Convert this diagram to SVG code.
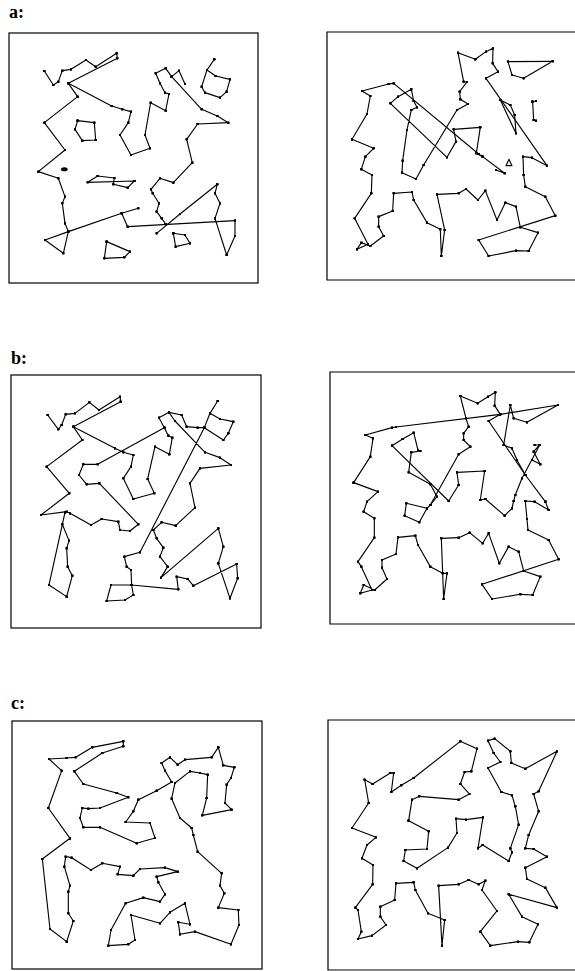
<svg xmlns="http://www.w3.org/2000/svg" width="575" height="971" viewBox="0 0 575 971">
<style>
.bg{fill:#fff}
.frame{fill:none;stroke:#000;stroke-width:1.2}
.lbl{font-family:"Liberation Serif","DejaVu Serif",serif;font-weight:bold;font-size:18px;fill:#000}
.t polyline,.t polygon{fill:none;stroke:#000;stroke-width:3.4;stroke-linejoin:round;marker-start:url(#d);marker-mid:url(#d);marker-end:url(#d)}
.t .nm{marker-start:none;marker-mid:none;marker-end:none}
</style>
<defs>
<marker id="d" viewBox="-1 -1 2 2" markerWidth="2.6" markerHeight="2.6" markerUnits="strokeWidth" refX="0" refY="0"><circle r="1" fill="#000"/></marker>
</defs>
<rect class="bg" x="0" y="0" width="575" height="971"/>
<text class="lbl" x="9" y="18">a:</text>
<text class="lbl" x="11" y="364">b:</text>
<text class="lbl" x="11" y="709">c:</text>

<g id="panel-a-left">
<rect class="frame" x="9" y="33" width="249" height="250"/>
<g class="t" transform="translate(5 20) scale(0.3333)">
<polyline points="118,153 145,195 160,185 172,152 198,148 243,120 272,140 335,100 337,115 190,190 218,230 118,308 180,390 100,455 160,475 180,530 172,550 180,610 190,635 120,660 175,700 190,635 350,580 400,565"/>
<polyline points="350,580 368,620 690,602"/>
<polyline points="455,640 525,582 637,493 630,520 645,550 630,595 665,705 690,648 690,602"/>
<polyline points="190,190 320,258 352,268 378,275 370,308 345,345 378,405 435,385 420,345 437,248 482,272 492,222 480,218 465,190 452,160 482,145 500,170 590,268 637,288 670,308 578,312 545,358 562,428 505,488 465,475 438,508 443,520 462,550 455,575 470,595 482,612"/>
<polyline points="500,170 522,152 540,192"/>
<polygon points="218,302 268,308 272,360 232,362 210,328"/>
<polygon points="606,150 632,168 675,178 665,215 645,233 600,218 590,200"/>
<polyline points="606,150 628,118"/>
<polygon points="388,483 248,487 278,468 328,474 325,493 368,503"/>
<polygon points="305,665 375,695 358,712 298,715"/>
<polygon points="505,640 540,645 555,670 512,680"/>
<ellipse cx="178" cy="448" rx="10" ry="6" fill="#000"/>
</g>
</g>

<g id="panel-a-right">
<path class="frame" d="M576,32 H327 V280 H576"/>
<g class="t" transform="translate(312 20) scale(0.3333)">
<polyline points="120,358 165,282 175,228 150,213 230,192 245,190 500,402 512,410 578,460 552,450"/>
<polyline points="120,358 185,385 160,410 148,448 180,465 178,520 128,595 168,673 135,688 148,668 175,678 215,648 200,620 200,590 242,573 245,520 300,516 305,540 345,608 385,628 388,708 398,630 375,523 440,520 462,507 498,540 520,512 555,600 580,548 612,560 625,622 678,638 650,693 612,692 530,708 500,660 730,587 700,530 640,500 635,465 633,410 660,413 705,437 522,175 558,155 542,130 543,85 522,95 490,118 438,98 455,185 465,186 443,215 445,238 468,252 435,270 335,435 312,477 270,458 272,422 285,330 298,270 315,262 305,243 298,208 258,230 235,250 405,412 432,365 425,328 505,322 493,400 512,410"/>
<polygon points="588,125 722,124 635,175 600,165"/>
<polyline points="660,245 672,243"/>
<polyline points="662,245 665,300 672,302"/>
<polygon points="565,240 595,255 608,285 612,340"/>
<polygon class="nm" points="582,437 591,418 600,437"/>
</g>
</g>

<g id="panel-b-left">
<rect class="frame" x="11" y="375" width="250" height="253"/>
<g class="t" transform="translate(5 365) scale(0.3333)">
<polyline points="128,150 160,193 170,180 182,148 210,145 253,112 282,135 345,95 347,110 205,185 232,225 125,305 193,385 108,450 185,440 195,445 258,480 290,462 340,470 345,495 375,498 400,478 283,355 245,358 222,330 235,298 278,298 478,188"/>
<polyline points="205,185 330,250 355,262 385,270 378,305 355,340 385,402 448,385 428,342 450,245 493,268 502,218 490,212 478,188 462,158 492,142 510,168 600,262 645,278 678,300 585,310 555,355 570,428 512,482 470,472 445,495 455,520 475,548 465,575 488,605 468,638 640,490 655,545 640,595 675,700 698,640 695,597 565,662 548,642 515,635 520,673 380,660 318,660 305,708 360,705 385,690 380,660 378,615 365,605 358,575 405,562 598,188 615,145 638,108"/>
<polyline points="492,142 530,150 545,185 578,188 598,188"/>
<polyline points="615,145 645,162 685,170 670,205 655,225 598,188"/>
<polyline points="180,442 172,478 192,527 185,550 188,605 202,632 185,695 132,660 180,442"/>
</g>
</g>

<g id="panel-b-right">
<path class="frame" d="M576,372 H330 V624 H576"/>
<g class="t" transform="translate(312 365) scale(0.3333)">
<polyline points="125,353 175,275 183,220 160,210 240,188 252,186 565,148 738,120 645,172 605,160 595,120 575,240 600,250 615,285 640,330 700,410"/>
<polyline points="445,93 497,115 528,95 550,82 548,122 565,148 530,168 640,330"/>
<polyline points="445,93 462,160 470,185 455,205 455,225 475,245 440,268 355,420"/>
<polyline points="125,353 198,380 165,410 155,440 187,460 187,518 138,590 148,605 180,675 145,685 155,660 188,675 225,642 210,608 210,585 252,567 258,517 310,512 318,540 355,605 392,625 405,625 395,702 388,520 440,518 473,503 512,535 530,505 562,595 590,545 620,560 635,618 685,635 662,690 625,688 540,702 510,658 740,583 710,525 648,495 645,462 640,408 668,410 710,435 700,410"/>
<polyline points="240,242 272,222 305,203 318,255 325,258 298,262 290,322 355,358 375,395 355,420 345,430 283,415 278,452 322,472 345,430"/>
<polyline points="240,242 410,408 440,360 435,322 518,318 505,405 520,402 578,452 600,430 605,408 610,390 630,340 683,240 668,240"/>
<polyline points="683,240 665,260 685,298 660,285"/>
</g>
</g>

<g id="panel-c-left">
<rect class="frame" x="12" y="721" width="250" height="248"/>
<g class="t" transform="translate(5 708) scale(0.3333)">
<polygon points="195,391 112,453 135,663 185,701 205,639 190,616 190,551 195,533 178,476 182,446 200,449 258,486 292,466 345,476 338,499 385,503 405,483 480,479 518,491 455,506 460,523 480,559 465,581 415,569 362,586 318,666 310,713 370,709 390,696 378,621 465,646 495,613 540,586 555,649 520,643 525,679 570,671 678,709 702,651 700,606 640,599 658,556 645,533 650,496 578,431 565,381 560,360 525,330 500,272 510,225 555,190 585,195 608,200 605,270 592,322 680,305 660,285 665,230 678,210 688,178 655,172 640,118 620,148 540,155 518,170 495,148 470,165 480,188 500,222 455,248 400,275 385,310 362,342 435,345 450,390 395,406 285,358 235,358 225,330 232,300 250,302 285,300 370,268 335,255 235,228 208,190 292,135 355,115 355,100 262,118 212,148 185,150 132,153 170,188 130,300"/>
</g>
</g>

<g id="panel-c-right">
<path class="frame" d="M576,720 H328 V970 H576"/>
<g class="t" transform="translate(312 708) scale(0.3333)">
<polygon points="290,338 350,370 345,423 280,426 275,459 315,481 408,419 435,375 432,332 462,335 513,328 498,421 512,411 590,459 600,433 595,421 620,350 610,295 600,262 568,252 528,180 565,162 545,135 528,98 548,92 595,130 598,165 640,182 735,130 680,250 665,258 680,310 650,381 640,421 665,423 705,446 640,479 645,513 700,539 735,599 590,559 630,626 678,649 652,703 618,701 535,713 505,671 555,609 510,546 520,518 500,529 470,516 440,529 380,533 390,713 398,636 348,616 310,546 305,523 252,526 248,576 205,596 205,626 222,651 180,683 138,693 148,671 138,606 130,599 182,529 183,471 150,451 165,411 192,388 120,360 170,285 158,215 182,228 235,195 245,195 238,252 268,232 305,210 445,100 495,122 478,190 458,192 445,228 472,258 440,275 322,265 300,275"/>
</g>
</g>
</svg>
